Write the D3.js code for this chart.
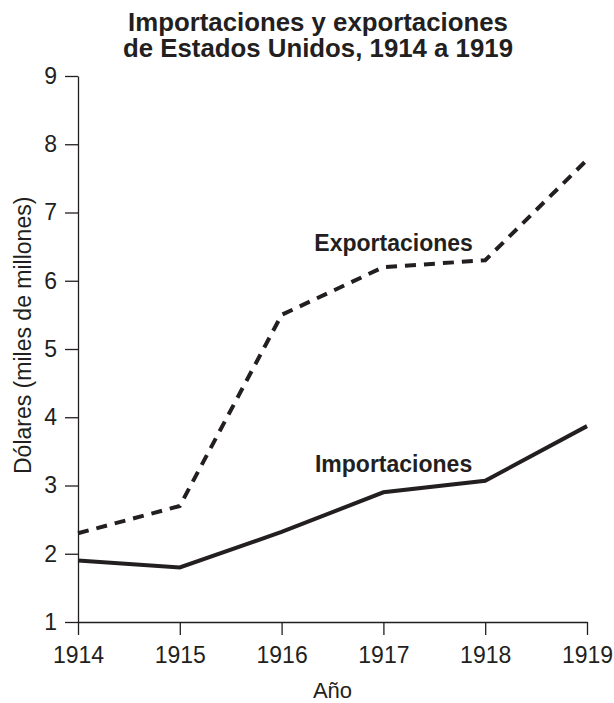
<!DOCTYPE html>
<html>
<head>
<meta charset="utf-8">
<script src="https://cdn.jsdelivr.net/npm/d3@7"></script>
<style>
  body { margin: 0; background: #fff; }
  svg text { font-family: "Liberation Sans", Arial, Helvetica, sans-serif; fill: #231f20; }
</style>
</head>
<body>
<script>
var years = [1914, 1915, 1916, 1917, 1918, 1919];
var exportaciones = [2.3, 2.7, 5.5, 6.2, 6.3, 7.77];
var importaciones = [1.9, 1.8, 2.32, 2.9, 3.07, 3.87];
var yTicks = [1, 2, 3, 4, 5, 6, 7, 8, 9];
var titleLines = ['Importaciones y exportaciones', 'de Estados Unidos, 1914 a 1919'];

var width = 614, height = 703;
var ink = '#231f20';

var svg = d3.select('body')
  .append('svg')
  .attr('width', width)
  .attr('height', height);

var x = d3.scaleLinear().domain([1914, 1919]).range([78, 587]);
var y = d3.scaleLinear().domain([1, 9]).range([622, 76]);

// title
svg.append('text')
  .attr('text-anchor', 'middle')
  .attr('font-weight', 'bold')
  .attr('font-size', 25.8)
  .selectAll('tspan')
  .data(titleLines)
  .enter()
  .append('tspan')
  .attr('x', 318)
  .attr('y', function(d, i) { return 31 + i * 25.5; })
  .text(function(d) { return d; });

// axes
var yAxis = svg.append('g')
  .attr('transform', 'translate(' + x(1914) + ',0)')
  .call(d3.axisLeft(y).tickValues(yTicks).tickSize(13).tickSizeOuter(0).tickPadding(8).tickFormat(d3.format('d')));

var xAxis = svg.append('g')
  .attr('transform', 'translate(0,' + y(1) + ')')
  .call(d3.axisBottom(x).tickValues(years).tickSize(13).tickSizeOuter(0).tickPadding(12).tickFormat(d3.format('d')));

[yAxis, xAxis].forEach(function(g) {
  g.selectAll('path, line').attr('stroke', ink).attr('stroke-width', 1.3);
  g.selectAll('text').attr('font-size', 23).attr('fill', ink)
    .style('font-family', '"Liberation Sans", Arial, sans-serif');
});

// axis titles
svg.append('text')
  .attr('text-anchor', 'middle')
  .attr('font-size', 22)
  .attr('x', x(1916.5))
  .attr('y', 698)
  .text('Año');

svg.append('text')
  .attr('text-anchor', 'middle')
  .attr('font-size', 23)
  .attr('transform', 'translate(31,' + y(5.2) + ') rotate(-90)')
  .text('Dólares (miles de millones)');

// lines
var line = d3.line()
  .x(function(d, i) { return x(years[i]); })
  .y(function(d) { return y(d); });

svg.append('path')
  .datum(exportaciones)
  .attr('d', line)
  .attr('fill', 'none')
  .attr('stroke', ink)
  .attr('stroke-width', 4)
  .attr('stroke-dasharray', '11,8');

svg.append('path')
  .datum(importaciones)
  .attr('d', line)
  .attr('fill', 'none')
  .attr('stroke', ink)
  .attr('stroke-width', 4);

// series labels
var labels = [
  { text: 'Exportaciones', year: 1917.1, value: 6.44 },
  { text: 'Importaciones', year: 1917.1, value: 3.2 }
];

svg.selectAll('.series-label')
  .data(labels)
  .enter()
  .append('text')
  .attr('class', 'series-label')
  .attr('text-anchor', 'middle')
  .attr('font-weight', 'bold')
  .attr('font-size', 23)
  .attr('x', function(d) { return x(d.year); })
  .attr('y', function(d) { return y(d.value); })
  .text(function(d) { return d.text; });
</script>
</body>
</html>
